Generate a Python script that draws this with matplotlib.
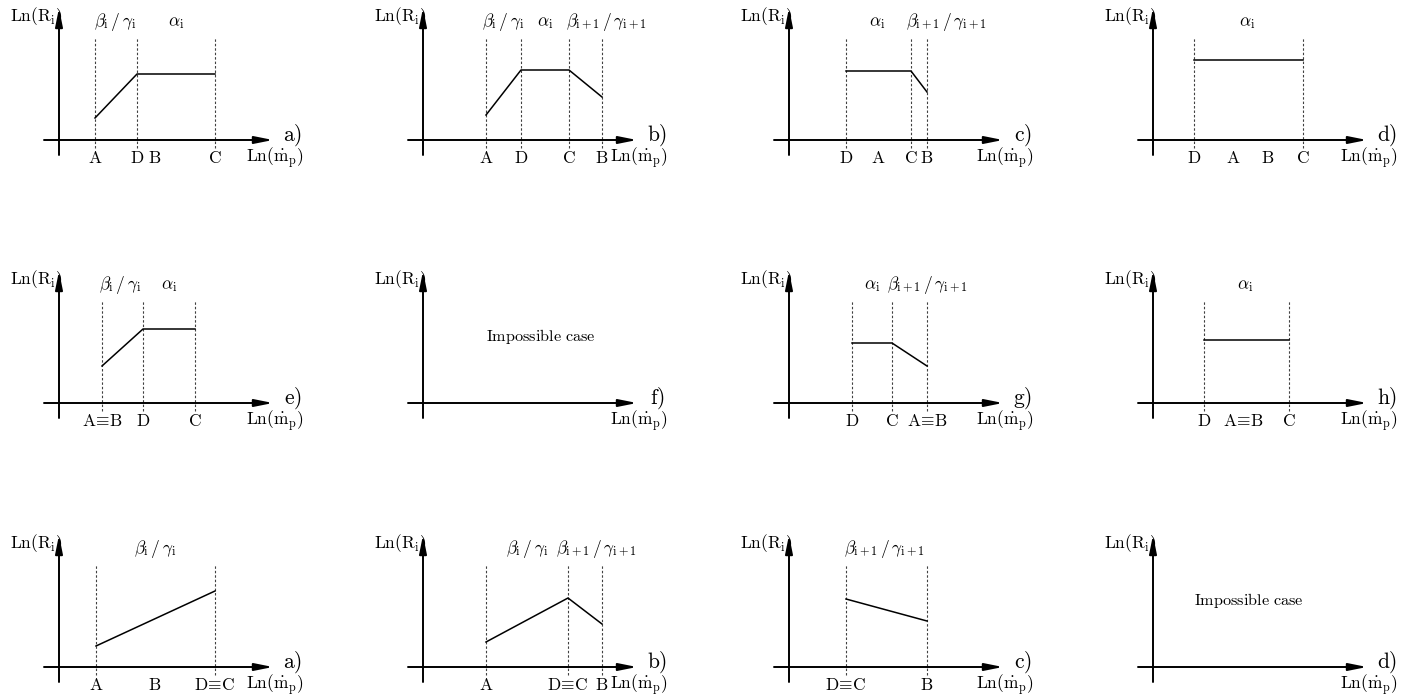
import matplotlib
matplotlib.use("Agg")
import matplotlib.pyplot as plt

plt.rcParams['mathtext.fontset'] = 'cm'

W, H = 1415, 698

# panel origins (pixel position of the axis crossing), one per column / row
col_x = [59, 423, 789, 1153]
row_y = [140, 403, 667]

panel_tags = ['a)', 'b)', 'c)', 'd)', 'e)', 'f)', 'g)', 'h)', 'a)', 'b)', 'c)', 'd)']

# break points of Ln(R_i) vs Ln(m_p) in each panel (empty = impossible case)
curve_x = [[36, 78, 156], [63, 98, 146, 179], [57, 122, 138], [41, 150],
           [43, 84, 136], [], [63, 103, 138], [51, 136],
           [37, 156], [63, 145, 179], [57, 138], []]
curve_y = [[22, 66, 66], [25, 70, 70, 43], [69, 69, 48], [80, 80],
           [37, 74, 74], [], [60, 60, 37], [63, 63],
           [21, 76], [25, 69, 43], [68, 46], []]

# labels under the x axis
tick_x = [[36, 78, 96, 156], [63, 98, 146, 179], [57, 89, 122, 138], [41, 80, 115, 150],
          [43, 84, 136], [], [63, 103, 138], [51, 90, 136],
          [37, 96, 156], [63, 145, 179], [57, 138], []]
tick_txt = [['A', 'D', 'B', 'C'], ['A', 'D', 'C', 'B'], ['D', 'A', 'C', 'B'], ['D', 'A', 'B', 'C'],
            ['A≡B', 'D', 'C'], [], ['D', 'C', 'A≡B'], ['D', 'A≡B', 'C'],
            ['A', 'B', 'D≡C'], ['A', 'D≡C', 'B'], ['D≡C', 'B'], []]

# regime labels above the plot
BG = r'$\beta_\mathrm{i}\,/\,\gamma_\mathrm{i}$'
BG1 = r'$\beta_\mathrm{i+1}\,/\,\gamma_\mathrm{i+1}$'
AL = r'$\alpha_\mathrm{i}$'
region_x = [[56, 117], [80, 122, 184], [88, 158], [94],
            [61, 110], [], [83, 139], [92],
            [96], [104, 174], [96], []]
region_txt = [[BG, AL], [BG, AL, BG1], [AL, BG1], [AL],
              [BG, AL], [], [AL, BG1], [AL],
              [BG], [BG, BG1], [BG1], []]


def mtxt(s):
    s = s.replace('≡', r'}\!\equiv\!\mathrm{')
    return r'$\mathrm{' + s + '}$'


fig = plt.figure(figsize=(W / 100, H / 100), dpi=100)

x0, x1, y0, y1 = -60, 300, -35, 140
for k in range(12):
    r, c = divmod(k, 4)
    ox, oy = col_x[c], row_y[r]
    ax = fig.add_axes([(ox + x0) / W, 1 - (oy - y0) / H, (x1 - x0) / W, (y1 - y0) / H])
    ax.set_xlim(x0, x1)
    ax.set_ylim(y0, y1)
    ax.set_axis_off()

    arrow = dict(arrowstyle='-|>,head_length=1.1,head_width=0.22', lw=1.4, color='k',
                 shrinkA=0, shrinkB=0, mutation_scale=10)
    ax.annotate('', xy=(214, 0), xytext=(-15, 0), arrowprops=arrow)
    ax.annotate('', xy=(0, 132), xytext=(0, -15), arrowprops=arrow)

    ax.text(3, 123, r'$\mathrm{Ln(R_i)}$', ha='right', va='center', fontsize=12.5)
    ax.text(216, -18, r'$\mathrm{Ln(\dot{m}_p)}$', ha='center', va='center', fontsize=12.5)
    ax.text(234, 5, r'$\mathrm{' + panel_tags[k][0] + ')}$', ha='center', va='center', fontsize=15.5)

    for xv in curve_x[k]:
        ax.plot([xv, xv], [-8, 103], color='0.25', lw=0.8, dashes=(2.2, 1.8))
    if curve_x[k]:
        ax.plot(curve_x[k], curve_y[k], color='k', lw=1.1)
    else:
        ax.text(118 if k == 5 else 96, 67, r'$\mathrm{Impossible\ case}$',
                ha='center', va='center', fontsize=11.7)

    for xv, t in zip(tick_x[k], tick_txt[k]):
        ax.text(xv, -18, mtxt(t), ha='center', va='center', fontsize=12.5)
    for xv, t in zip(region_x[k], region_txt[k]):
        ax.text(xv, 118, t, ha='center', va='center', fontsize=12.5)

fig.savefig('out.png', dpi=100)
